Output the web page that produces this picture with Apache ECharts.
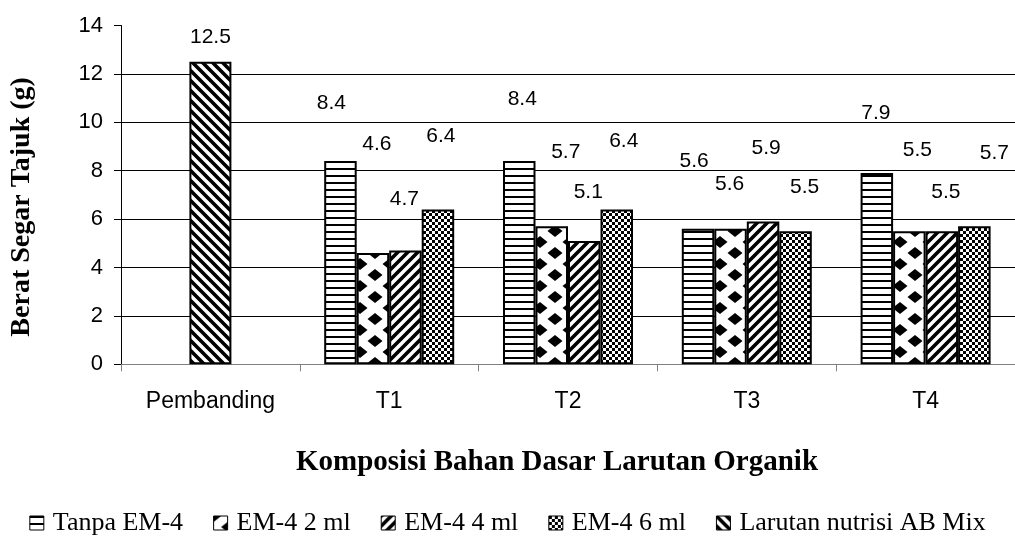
<!DOCTYPE html>
<html>
<head>
<meta charset="utf-8">
<script src="https://cdn.jsdelivr.net/npm/echarts@6/dist/echarts.min.js"></script>
<style>
  html, body { margin: 0; padding: 0; background: #fff; }
  #chart { width: 1015px; height: 543px; }
</style>
</head>
<body>
<div id="chart"></div>
<script>
// ---- data ----
const categories = ['Pembanding', 'T1', 'T2', 'T3', 'T4'];
const seriesNames = ['Tanpa EM-4', 'EM-4 2 ml', 'EM-4 4 ml', 'EM-4 6 ml', 'Larutan nutrisi AB Mix'];
const tanpaEM4 = [null, 8.4, 8.4, 5.6, 7.9];
const em4Dose2 = [null, 4.6, 5.7, 5.6, 5.5];
const em4Dose4 = [null, 4.7, 5.1, 5.9, 5.5];
const em4Dose6 = [null, 6.4, 6.4, 5.5, 5.7];
const abMix = [12.5, null, null, null, null];
const yMin = 0, yMax = 14, yStep = 2;

// ---- layout: hand-placed value label nudges [dx, dy] per series / category ----
const labelNudge = [
  [null, [-9, -47], [3, -51], [-4, -57], [-1, -49]],
  [null, [4, -98], [14, -64], [-1, -34], [8, -70]],
  [null, [-1, -41], [4, -38], [3, -63], [4, -28]],
  [null, [3, -63], [7, -58], [9, -33], [20, -63]],
  [[0, -14], null, null, null, null]
];

// ---- fill patterns ----
function tile(w, h, draw) {
  const c = document.createElement('canvas');
  c.width = w; c.height = h;
  const ctx = c.getContext('2d');
  ctx.fillStyle = '#fff';
  ctx.fillRect(0, 0, w, h);
  ctx.fillStyle = '#000';
  ctx.strokeStyle = '#000';
  draw(ctx, w, h);
  return { image: c, repeat: 'repeat' };
}
const patHorizontal = tile(8, 7, (ctx, w) => { ctx.fillRect(0, 0, w, 2); });
const patDiamond = tile(30, 22, (ctx, w, h) => {
  const dia = (cx, cy) => {
    ctx.beginPath();
    ctx.moveTo(cx, cy - 6); ctx.lineTo(cx + 7.5, cy);
    ctx.lineTo(cx, cy + 6); ctx.lineTo(cx - 7.5, cy);
    ctx.closePath(); ctx.fill();
  };
  dia(w / 2, h / 2); dia(0, 0); dia(w, 0); dia(0, h); dia(w, h);
});
const stripe = (dir) => tile(10, 10, (ctx) => {
  ctx.lineWidth = 3.6;
  ctx.beginPath();
  if (dir > 0) {
    ctx.moveTo(-5, 5); ctx.lineTo(5, -5);
    ctx.moveTo(0, 10); ctx.lineTo(10, 0);
    ctx.moveTo(5, 15); ctx.lineTo(15, 5);
  } else {
    ctx.moveTo(-5, 5); ctx.lineTo(5, 15);
    ctx.moveTo(0, 0); ctx.lineTo(10, 10);
    ctx.moveTo(5, -5); ctx.lineTo(15, 5);
  }
  ctx.stroke();
});
const patForward = stripe(1);
const patBack = stripe(-1);
const patChecker = tile(6, 6, (ctx) => { ctx.fillRect(0, 0, 3, 3); ctx.fillRect(3, 3, 3, 3); });

const fills = [patHorizontal, patDiamond, patForward, patChecker, patBack];
const values = [tanpaEM4, em4Dose2, em4Dose4, em4Dose6, abMix];

const sansFont = 'Liberation Sans, Arial, sans-serif';
const serifFont = 'Liberation Serif, Times New Roman, serif';

function buildData(vals, nudges) {
  return vals.map((v, i) => {
    if (v == null) return '-';
    const n = nudges[i] || [0, 0];
    return { value: v, label: { offset: [n[0], n[1]] } };
  });
}

const series = values.map((vals, k) => ({
  name: seriesNames[k],
  type: 'bar',
  xAxisIndex: k === 4 ? 1 : 0,
  barWidth: k === 4 ? 42 : 32.5,
  barGap: '0%',
  data: buildData(vals, labelNudge[k]),
  itemStyle: { color: fills[k], borderColor: '#000', borderWidth: 2 },
  label: {
    show: true,
    position: 'top',
    distance: 0,
    color: '#000',
    fontFamily: sansFont,
    fontSize: 21,
    formatter: (p) => p.value.toFixed(1)
  },
  emphasis: { disabled: true },
  animation: false
}));

const chart = echarts.init(document.getElementById('chart'), null, { renderer: 'canvas' });
chart.setOption({
  backgroundColor: '#fff',
  animation: false,
  grid: { left: 120.7, right: -2.2, top: 25.5, bottom: 178.7, containLabel: false },
  legend: {
    data: seriesNames,
    left: 'center',
    top: 505,
    itemWidth: 14,
    itemHeight: 14,
    itemGap: 30,
    icon: 'rect',
    itemStyle: { borderWidth: 1, borderColor: '#000' },
    textStyle: { fontFamily: serifFont, fontSize: 26, color: '#000', padding: [0, 0, 0, 4] }
  },
  xAxis: [
    {
      type: 'category',
      data: categories,
      name: 'Komposisi Bahan Dasar Larutan Organik',
      nameLocation: 'middle',
      nameGap: 84,
      nameTextStyle: { fontFamily: serifFont, fontWeight: 'bold', fontSize: 29, color: '#000', padding: [0, 22, 0, 0] },
      axisLine: { show: true, lineStyle: { color: '#808080', width: 1 } },
      axisTick: { show: true, length: 7, lineStyle: { color: '#808080' } },
      axisLabel: { fontFamily: sansFont, fontSize: 23, color: '#000', margin: 26 },
      splitLine: { show: false }
    },
    {
      type: 'category',
      data: categories,
      show: false
    }
  ],
  yAxis: {
    type: 'value',
    min: yMin,
    max: yMax,
    interval: yStep,
    name: 'Berat Segar Tajuk (g)',
    nameLocation: 'middle',
    nameGap: 85,
    nameTextStyle: { fontFamily: serifFont, fontWeight: 'bold', fontSize: 28, color: '#000', padding: [0, 24, 0, 0] },
    axisLine: { show: true, lineStyle: { color: '#000', width: 1 } },
    axisTick: { show: true, length: 7, lineStyle: { color: '#000' } },
    axisLabel: { fontFamily: sansFont, fontSize: 22, color: '#000', margin: 18 },
    splitLine: { show: true, showMaxLine: false, showMinLine: false, lineStyle: { color: '#000', width: 1 } }
  },
  series: series
});
</script>
</body>
</html>
